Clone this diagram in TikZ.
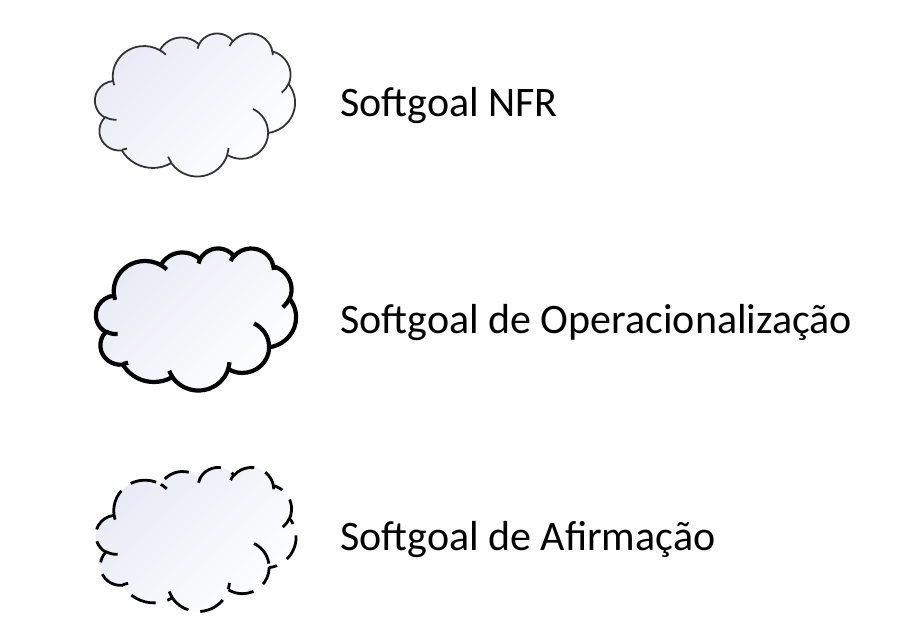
\documentclass[tikz,border=0pt]{standalone}
\usepackage{fontspec}
\setmainfont{Carlito}
\definecolor{cloudlav}{RGB}{232,235,246}
\tikzset{
  declare function={
    ptang(\pw,\ph,\pa)=atan2(\pw*sin(\pa),\ph*cos(\pa));
    wrapd(\pD,\ps)=\pD-360*round((\pD-\ps)/360);
    cdel(\pw,\ph,\pa,\ps)=wrapd(ptang(\pw,\ph,\pa+\ps)-ptang(\pw,\ph,\pa),\ps);
  },
  cloudshade/.style={top color=cloudlav, bottom color=white, shading angle=45},
  nfrline/.style={draw=black!80, line width=1.8pt, line join=round},
  operline/.style={draw=black, line width=4.2pt, line join=round},
  afirmline/.style={draw=black, line width=2.8pt, line join=round, dash pattern=on 26pt off 12pt},
  lbl/.style={font=\fontsize{42}{50}\selectfont, anchor=base west, inner sep=0pt, text=black}
}
\newcommand\cp[2]{({\X+#1*\cx},{-(\Y+#2*\cy)})}
\newcommand\carc[4]{arc[start angle={-ptang(#1,#2,#3)}, delta angle={-cdel(#1,#2,#3,#4)}, x radius={#1*\cx}, y radius={#2*\cy}]}
\newcommand\setcloud[4]{\def\X{#1}\def\Y{#2}\pgfmathsetmacro\cx{#3/43.2}\pgfmathsetmacro\cy{#4/43.2}}
\newcommand\cloudbody{\cp{3.900}{14.370}
  \carc{6.753}{9.190}{-190.4875}{123.7805}
  \carc{5.333}{7.267}{-144.1024}{89.9452}
  \carc{4.365}{5.945}{-145.8079}{99.7230}
  \carc{4.857}{6.595}{-130.9861}{117.2417}
  \carc{5.333}{7.273}{-78.7089}{109.0269}
  \carc{6.775}{9.220}{-46.2673}{130.2690}
  \carc{5.785}{7.867}{0.6250}{114.0333}
  \carc{6.752}{9.215}{22.4516}{115.1726}
  \carc{7.720}{10.543}{66.2426}{75.7110}
  \carc{4.360}{5.918}{-274.9421}{146.7356}
  \carc{4.345}{5.945}{-246.8285}{152.5189}
  -- cycle}
\newcommand\cloudticks{
  \cp{4.693}{26.177} \carc{4.345}{5.945}{86.742}{26.4295}
  \cp{6.928}{34.899} \carc{4.360}{5.918}{73.6105}{11.4475}
  \cp{16.478}{39.090} \carc{6.752}{9.215}{137.6242}{14.0811}
  \cp{28.827}{34.751} \carc{6.752}{9.215}{6.4533}{15.9984}
  \cp{34.129}{22.954} \carc{5.785}{7.867}{-70.2924}{70.9174}
  \cp{41.798}{15.354} \carc{5.333}{7.273}{30.3180}{27.7515}
  \cp{38.324}{5.426} \carc{4.857}{6.595}{-13.7443}{14.8589}
  \cp{29.078}{3.952} \carc{4.857}{6.595}{-149.1815}{18.1954}
  \cp{22.141}{4.720} \carc{4.365}{5.945}{-163.4943}{17.6864}
  \cp{14.000}{5.192} \carc{6.753}{9.190}{-66.7070}{12.3194}
  \cp{4.127}{15.789} \carc{6.753}{9.190}{157.6544}{11.8582}}
\begin{document}
\begin{tikzpicture}[x=1pt,y=1pt]
\useasboundingbox[fill=white] (0,0) rectangle (912,-626);
% Softgoal NFR
\setcloud{95}{33}{200}{143}
\path[cloudshade] \cloudbody;
\draw[nfrline] \cloudbody;
\draw[nfrline] \cloudticks;
\coordinate (c1) at (195,-104);
\node[lbl] (t1) at (340,-116) {Softgoal NFR};
% Softgoal de Operacionalizacao
\setcloud{96}{248}{200}{142}
\path[cloudshade] \cloudbody;
\draw[operline] \cloudbody;
\draw[operline] \cloudticks;
\coordinate (c2) at (196,-319);
\node[lbl] (t2) at (340,-333) {Softgoal de Operacionalização};
% Softgoal de Afirmacao
\setcloud{96}{467}{200}{144}
\path[cloudshade] \cloudbody;
\draw[afirmline] \cloudbody;
\draw[afirmline] \cloudticks;
\coordinate (c3) at (196,-539);
\node[lbl] (t3) at (340,-550) {Softgoal de Afirmação};
\end{tikzpicture}
\end{document}
